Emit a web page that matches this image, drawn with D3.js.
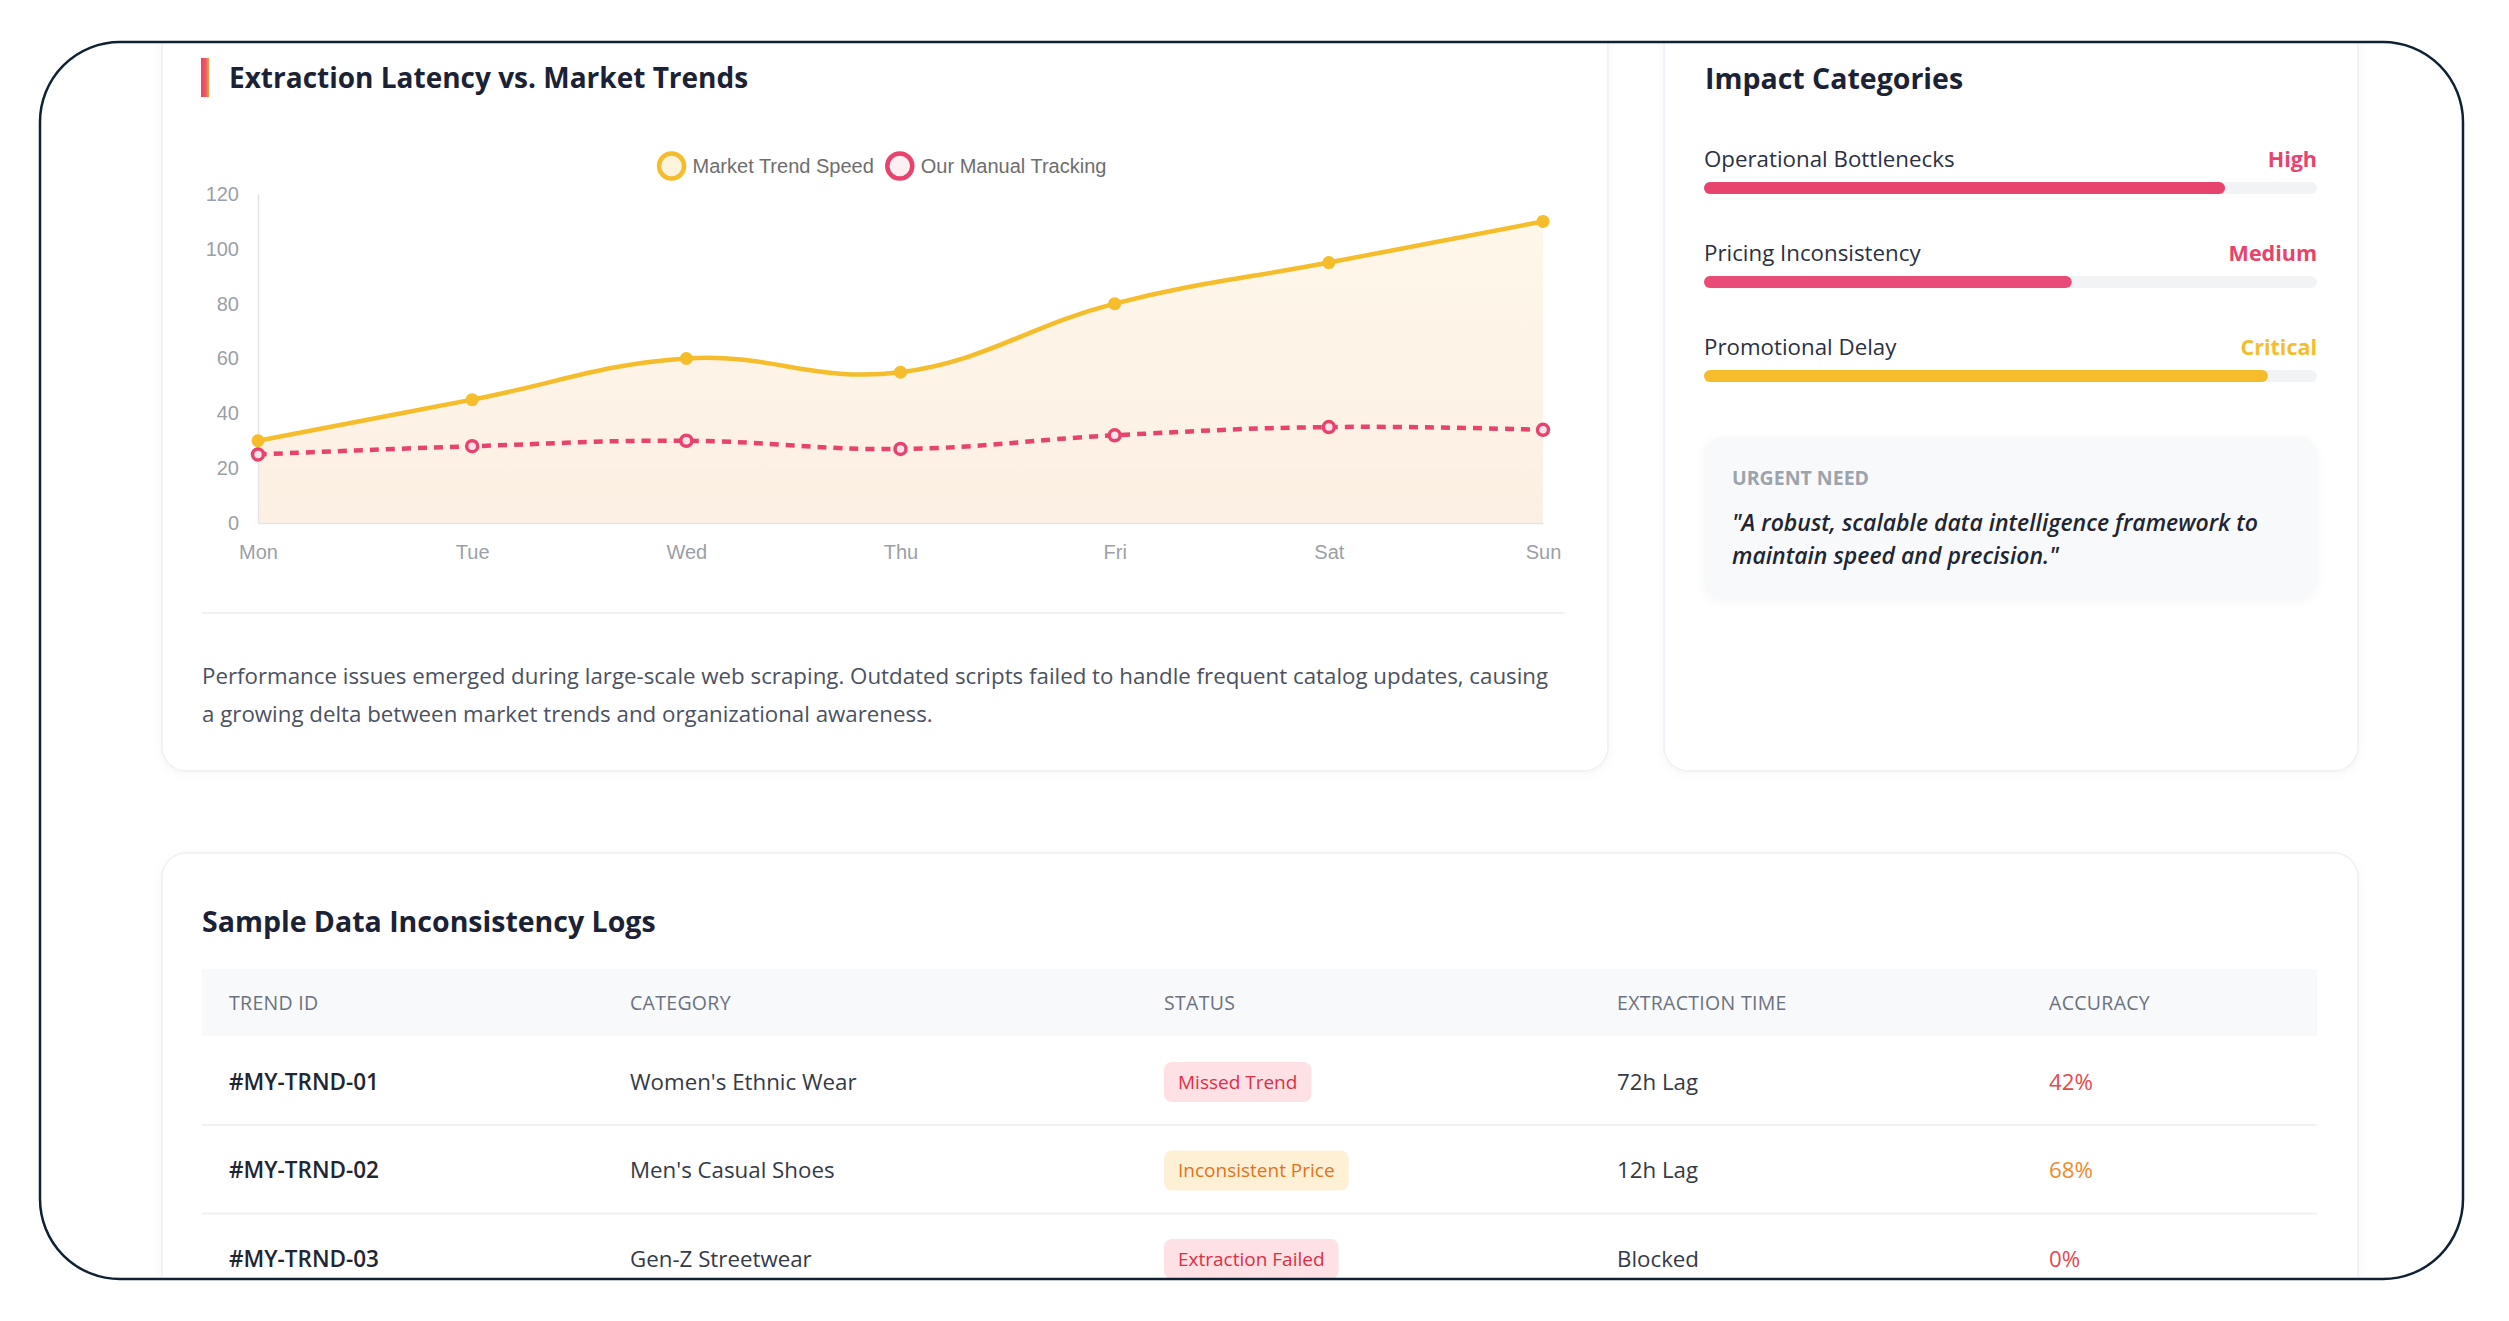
<!DOCTYPE html>
<html><head><meta charset="utf-8">
<script src="https://cdn.jsdelivr.net/npm/d3@7"></script>
<style>
html,body{margin:0;padding:0;background:#fff;overflow:hidden}
svg{display:block}
</style></head><body>
<svg id="c" width="2509" height="1321"></svg>
<script>
// ---------- DATA ----------
const days = ['Mon','Tue','Wed','Thu','Fri','Sat','Sun'];
const marketTrend = [30,45,60,55,80,95,110];
const manualTracking = [25,28,30,27,32,35,34];
const yTicks = [0,20,40,60,80,100,120];
const seriesNames = ['Market Trend Speed','Our Manual Tracking'];

const impactLabels = ['Operational Bottlenecks','Pricing Inconsistency','Promotional Delay'];
const impactLevels = ['High','Medium','Critical'];
const impactValues = [85,60,92];

const tableHeaders = ['TREND ID','CATEGORY','STATUS','EXTRACTION TIME','ACCURACY'];
const trendIds = ['#MY-TRND-01','#MY-TRND-02','#MY-TRND-03'];
const categories = ["Women's Ethnic Wear","Men's Casual Shoes",'Gen-Z Streetwear'];
const statuses = ['Missed Trend','Inconsistent Price','Extraction Failed'];
const extractionTimes = ['72h Lag','12h Lag','Blocked'];
const accuracies = ['42%','68%','0%'];

// ---------- STYLE ----------
const UI = "'Open Sans', 'Noto Sans', Lato, sans-serif";
const CH = "'Liberation Sans', Arial, Helvetica, sans-serif";
const YEL = '#f5bd2b', RED = '#e8436c';

const svg = d3.select('#c');
const defs = svg.append('defs');
defs.append('clipPath').attr('id','frameClip').append('rect')
  .attr('x',40).attr('y',42).attr('width',2423).attr('height',1237).attr('rx',80);
const sh = defs.append('filter').attr('id','sh').attr('x','-5%').attr('y','-5%').attr('width','110%').attr('height','110%');
sh.append('feDropShadow').attr('dx',0).attr('dy',2).attr('stdDeviation',5).attr('flood-color','#000').attr('flood-opacity',0.04);
const ag = defs.append('linearGradient').attr('id','accent').attr('x1','0').attr('x2','1').attr('y1','0').attr('y2','0');
ag.append('stop').attr('offset','0').attr('stop-color','#e8436c');
ag.append('stop').attr('offset','0.6').attr('stop-color','#ea5a6a');
ag.append('stop').attr('offset','1').attr('stop-color','#f5a33a');
const fg = defs.append('linearGradient').attr('id','fillg').attr('gradientUnits','userSpaceOnUse')
  .attr('x1',0).attr('x2',0).attr('y1',194).attr('y2',523);
fg.append('stop').attr('offset','0').attr('stop-color','#fef8ea');
fg.append('stop').attr('offset','1').attr('stop-color','#fcefe3');

const root = svg.append('g').attr('clip-path','url(#frameClip)');

// cards
const cards = [[162,-30,1446,801],[1664,-30,694,801],[162,853,2196,700]];
root.selectAll('rect.card').data(cards).join('rect').attr('class','card')
  .attr('x',d=>d[0]).attr('y',d=>d[1]).attr('width',d=>d[2]).attr('height',d=>d[3])
  .attr('rx',24).attr('fill','#fff').attr('stroke','#eef0f3').attr('stroke-width',1.5)
  .attr('filter','url(#sh)');

// ---------- LEFT CARD: CHART ----------
root.append('rect').attr('x',201).attr('y',58).attr('width',8).attr('height',39).attr('fill','url(#accent)');
root.append('text').attr('x',229).attr('y',78).attr('dy','0.35em')
  .attr('font-family',UI).attr('font-weight',700).attr('font-size',28).attr('fill','#1b2236')
  .text('Extraction Latency vs. Market Trends');

const x = d3.scalePoint().domain(days).range([258,1543]);
const y = d3.scaleLinear().domain([0,120]).range([523,194]);
const chart = root.append('g');

const curve = d3.curveCardinal.tension(-0.2);
const area = d3.area().x((d,i)=>x(days[i])).y0(y(0)).y1(d=>y(d)).curve(curve);
chart.append('path').datum(marketTrend).attr('d',area).attr('fill','url(#fillg)');

const ya = chart.append('g').attr('transform',`translate(${x(days[0])},0)`)
  .call(d3.axisLeft(y).tickValues(yTicks).tickSize(0).tickSizeOuter(0).tickPadding(19));
const xa = chart.append('g').attr('transform',`translate(0,${y(0)})`)
  .call(d3.axisBottom(x).tickSize(0).tickSizeOuter(0).tickPadding(22));
[ya,xa].forEach(a=>{
  a.select('.domain').attr('stroke','#e3e5e8').attr('stroke-width',1.5);
  a.selectAll('text').attr('font-family',CH).attr('font-size',20).attr('fill','#9b9fa6');
});

const line = d3.line().x((d,i)=>x(days[i])).y(d=>y(d)).curve(curve);
chart.append('path').datum(marketTrend).attr('d',line).attr('fill','none')
  .attr('stroke',YEL).attr('stroke-width',4.5);
chart.append('path').datum(manualTracking).attr('d',line).attr('fill','none')
  .attr('stroke',RED).attr('stroke-width',4.5).attr('stroke-dasharray','9,7');

chart.selectAll('circle.m').data(marketTrend).join('circle').attr('class','m')
  .attr('cx',(d,i)=>x(days[i])).attr('cy',d=>y(d)).attr('r',6.5).attr('fill',YEL);
chart.selectAll('circle.t').data(manualTracking).join('circle').attr('class','t')
  .attr('cx',(d,i)=>x(days[i])).attr('cy',d=>y(d)).attr('r',5.5)
  .attr('fill','#fbe3ea').attr('stroke',RED).attr('stroke-width',3.5);

// legend
const legColors = [YEL, RED], legFills = ['#fdf4de','#fdf0f3'];
const leg = chart.append('g');
const items = leg.selectAll('g').data(seriesNames).join('g');
items.append('circle').attr('r',12.5).attr('fill',(d,i)=>legFills[i]).attr('stroke',(d,i)=>legColors[i]).attr('stroke-width',4.5);
items.append('text').attr('x',21).attr('dy','0.35em').attr('font-family',CH).attr('font-size',20)
  .attr('fill','#6e6e6e').text(d=>d);
let widths = [];
items.each(function(){ widths.push(d3.select(this).select('text').node().getComputedTextLength()+21+14+12); });
const totalW = d3.sum(widths) - 12;
let cx0 = 882 - totalW/2;
items.attr('transform',(d,i)=>{ const t=`translate(${cx0+14},166)`; cx0 += widths[i]; return t; });

// divider + paragraph
root.append('line').attr('x1',202).attr('x2',1565).attr('y1',613).attr('y2',613).attr('stroke','#f0f1f4').attr('stroke-width',2);
const para = root.append('text').attr('font-family',UI).attr('font-size',22.3).attr('fill','#4b5160');
para.append('tspan').attr('x',202).attr('y',676).attr('dy','0.35em')
  .text('Performance issues emerged during large-scale web scraping. Outdated scripts failed to handle frequent catalog updates, causing');
para.append('tspan').attr('x',202).attr('y',714).attr('dy','0.35em')
  .text('a growing delta between market trends and organizational awareness.');

// ---------- RIGHT CARD: IMPACT ----------
root.append('text').attr('x',1705).attr('y',79).attr('dy','0.35em')
  .attr('font-family',UI).attr('font-weight',700).attr('font-size',28.5).attr('fill','#1b2236')
  .text('Impact Categories');
const bx = d3.scaleLinear().domain([0,100]).range([1704,2317]);
const levelColors = [RED, RED, YEL];
const barColors = ['#e8436c','#e94d77','#f5bd2b'];
const rows = root.selectAll('g.imp').data(impactLabels).join('g').attr('class','imp')
  .attr('transform',(d,i)=>`translate(0,${159+i*94})`);
rows.append('text').attr('x',1704).attr('dy','0.35em').attr('font-family',UI).attr('font-size',22.3)
  .attr('fill','#2b3140').text(d=>d);
rows.append('text').attr('x',2317).attr('dy','0.35em').attr('text-anchor','end').attr('font-family',UI)
  .attr('font-weight',700).attr('font-size',21.5).attr('fill',(d,i)=>levelColors[i]).text((d,i)=>impactLevels[i]);
rows.append('rect').attr('x',bx(0)).attr('y',23).attr('width',bx(100)-bx(0)).attr('height',12).attr('rx',6).attr('fill','#f1f3f5');
rows.append('rect').attr('x',bx(0)).attr('y',23).attr('width',(d,i)=>bx(impactValues[i])-bx(0)).attr('height',12).attr('rx',6)
  .attr('fill',(d,i)=>barColors[i]);

root.append('rect').attr('x',1704).attr('y',437).attr('width',613).attr('height',162).attr('rx',18)
  .attr('fill','#f8f9fa').attr('filter','url(#sh)');
root.append('text').attr('x',1732).attr('y',478).attr('dy','0.35em').attr('font-family',UI)
  .attr('font-weight',700).attr('font-size',19.5).attr('fill','#9ca3ad').text('URGENT NEED');
const q = root.append('text').attr('font-family',UI).attr('font-style','italic').attr('font-weight',600)
  .attr('font-size',23).attr('fill','#1f2633');
q.append('tspan').attr('x',1732).attr('y',523).attr('dy','0.35em').text('"A robust, scalable data intelligence framework to');
q.append('tspan').attr('x',1732).attr('y',556).attr('dy','0.35em').text('maintain speed and precision."');

// ---------- BOTTOM CARD: TABLE ----------
root.append('text').attr('x',202).attr('y',922).attr('dy','0.35em').attr('font-family',UI)
  .attr('font-weight',700).attr('font-size',28.5).attr('fill','#1b2236').text('Sample Data Inconsistency Logs');
root.append('rect').attr('x',202).attr('y',969).attr('width',2115).attr('height',67).attr('fill','#f8f9fa');
const colX = [229,630,1164,1617,2049];
root.selectAll('text.th').data(tableHeaders).join('text').attr('class','th')
  .attr('x',(d,i)=>colX[i]).attr('y',1003).attr('dy','0.35em').attr('font-family',UI)
  .attr('font-size',19.5).attr('font-weight',500).attr('letter-spacing',0.3).attr('fill','#6b7280').text(d=>d);

const rowY = i => 1082 + i*88.5;
root.selectAll('line.sep').data([0,1]).join('line').attr('class','sep')
  .attr('x1',202).attr('x2',2317).attr('y1',i=>rowY(i)+43).attr('y2',i=>rowY(i)+43)
  .attr('stroke','#f0f1f4').attr('stroke-width',2);

const badgeBg = ['#fde1e4','#fef0d5','#fde1e4'];
const badgeFg = ['#dd2e48','#e5711d','#dd2e48'];
const accColors = ['#e5484d','#ee8a2e','#e5484d'];
const tr = root.selectAll('g.tr').data(trendIds).join('g').attr('class','tr')
  .attr('transform',(d,i)=>`translate(0,${rowY(i)})`);
tr.append('text').attr('x',colX[0]).attr('dy','0.35em').attr('font-family',UI).attr('font-size',22.5)
  .attr('font-weight',600).attr('fill','#1f2633').text(d=>d);
tr.append('text').attr('x',colX[1]).attr('dy','0.35em').attr('font-family',UI).attr('font-size',22.3)
  .attr('fill','#343a46').text((d,i)=>categories[i]);
const bt = tr.append('text').attr('x',colX[2]+14).attr('dy','0.35em').attr('font-family',UI).attr('font-size',19)
  .attr('fill',(d,i)=>badgeFg[i]).text((d,i)=>statuses[i]);
bt.each(function(d,i){
  const w = this.getComputedTextLength();
  d3.select(this.parentNode).insert('rect','text:nth-of-type(3)')
    .attr('x',colX[2]).attr('y',-20).attr('width',w+28).attr('height',40).attr('rx',8).attr('fill',badgeBg[i]);
});
tr.append('text').attr('x',colX[3]).attr('dy','0.35em').attr('font-family',UI).attr('font-size',22.3)
  .attr('fill','#343a46').text((d,i)=>extractionTimes[i]);
tr.append('text').attr('x',colX[4]).attr('dy','0.35em').attr('font-family',UI).attr('font-size',22.3)
  .attr('fill',(d,i)=>accColors[i]).text((d,i)=>accuracies[i]);

// frame
svg.append('rect').attr('x',40).attr('y',42).attr('width',2423).attr('height',1237).attr('rx',80)
  .attr('fill','none').attr('stroke','#0f2233').attr('stroke-width',2.5);
</script>
</body></html>
